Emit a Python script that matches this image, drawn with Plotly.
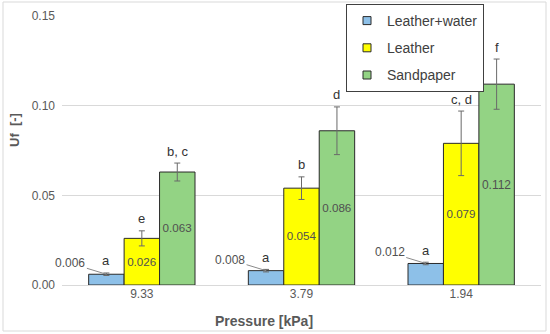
import plotly.graph_objects as go

categories = ["9.33", "3.79", "1.94"]
series_names = ["Leather+water", "Leather", "Sandpaper"]
leather_water = [0.006, 0.008, 0.012]
leather = [0.026, 0.054, 0.079]
sandpaper = [0.063, 0.086, 0.112]
leather_water_err = [0.0007, 0.0007, 0.0007]
leather_err = [0.0042, 0.0063, 0.018]
sandpaper_err = [0.005, 0.0133, 0.014]
leather_water_letters = ["a", "a", "a"]
leather_letters = ["e", "b", "c, d"]
sandpaper_letters = ["b, c", "d", "f"]
y_ticks = [0.00, 0.05, 0.10, 0.15]

values = [leather_water, leather, sandpaper]
errors = [leather_water_err, leather_err, sandpaper_err]
letters = [leather_water_letters, leather_letters, sandpaper_letters]
colors = ["#8DC0E8", "#FFFF00", "#93D384"]

W, H = 550, 334
L, R, T, B = 62, 9, 16, 49
pw, ph = W - L - R, H - T - B

def px(xp):
    return (xp - L) / pw

def py(yp):
    return (H - B - yp) / ph

bargap = 0.334
bw = (1 - bargap) / 3
xs = list(range(len(categories)))

fig = go.Figure()
for s, (name, vals, errs, col) in enumerate(zip(series_names, values, errors, colors)):
    inside = s > 0
    fig.add_trace(go.Bar(
        x=xs, y=vals, name=name, showlegend=False,
        marker=dict(color=col, line=dict(color="#2a2a2a", width=1)),
        error_y=dict(type="data", array=errs, color="#6a6a6a", thickness=1, width=3),
        text=[f"{v:.3f}" for v in vals] if inside else None,
        textposition="inside" if inside else "none",
        insidetextanchor="middle",
        textangle=0,
        textfont=dict(family="Liberation Sans, Arial", size=12, color="#505050"),
        legendgroup=name,
    ))
for name, col in zip(series_names, colors):
    fig.add_trace(go.Scatter(
        x=[None], y=[None], mode="markers", name=name, legendgroup=name,
        marker=dict(symbol="square", size=8, color=col, line=dict(color="#2a2a2a", width=1)),
    ))

annotations = []
for s in range(3):
    off = (s - 1) * bw
    for i in xs:
        top = values[s][i] + errors[s][i]
        annotations.append(dict(
            x=i + off, y=top, xref="x", yref="y", text=letters[s][i],
            showarrow=False, yanchor="middle", yshift=12,
            font=dict(family="Liberation Sans, Arial", size=13, color="#333333"),
        ))
# leader-line labels for Leather+water
for i in xs:
    annotations.append(dict(
        x=i - bw, y=leather_water[i], xref="x", yref="y",
        text=f"{leather_water[i]:.3f}", showarrow=True, arrowhead=0,
        arrowwidth=1, arrowcolor="#8a8a8a", ax=-36, ay=-11,
        font=dict(family="Liberation Sans, Arial", size=12, color="#505050"),
    ))
# axis titles
annotations.append(dict(
    x=px(14), y=py(130), xref="paper", yref="paper", text="<b>Uf  [-]</b>",
    textangle=-90, showarrow=False, xanchor="center", yanchor="middle",
    font=dict(family="Liberation Sans, Arial", size=13, color="#595959"),
))
annotations.append(dict(
    x=px(263.5), y=py(321), xref="paper", yref="paper", text="<b>Pressure [kPa]</b>",
    showarrow=False, xanchor="center", yanchor="middle",
    font=dict(family="Liberation Sans, Arial", size=14, color="#595959"),
))

fig.update_layout(
    width=W, height=H,
    margin=dict(l=L, r=R, t=T, b=B, autoexpand=False),
    paper_bgcolor="white", plot_bgcolor="white",
    barmode="group", bargap=bargap, bargroupgap=0,
    showlegend=True,
    legend=dict(
        x=px(346), y=py(4), xanchor="left", yanchor="top",
        bgcolor="white", bordercolor="#404040", borderwidth=1,
        font=dict(family="Liberation Sans, Arial", size=14, color="#404040"),
        traceorder="grouped", tracegroupgap=6, itemwidth=30,
    ),
    xaxis=dict(
        tickmode="array", tickvals=xs, ticktext=categories,
        range=[-0.5, len(categories) - 0.5], automargin=False,
        showgrid=False, zeroline=False, showline=False, ticks="",
        tickfont=dict(family="Liberation Sans, Arial", size=12, color="#595959"),
    ),
    yaxis=dict(
        range=[0, 0.15], tickvals=y_ticks, tickformat=".2f", automargin=False,
        showgrid=True, gridcolor="#d9d9d9", gridwidth=1,
        zeroline=True, zerolinecolor="#d9d9d9", zerolinewidth=1,
        showline=False, ticks="", ticklabelstandoff=6,
        tickfont=dict(family="Liberation Sans, Arial", size=12, color="#595959"),
    ),
    annotations=annotations,
    shapes=[dict(
        type="rect", xref="paper", yref="paper",
        x0=px(3), x1=px(546), y0=py(331), y1=py(2),
        line=dict(color="#d9d9d9", width=1), fillcolor="rgba(0,0,0,0)", layer="below",
    )],
)

fig.write_html("out.html", config={"displayModeBar": False},
               post_script="document.body.style.margin='0';")
